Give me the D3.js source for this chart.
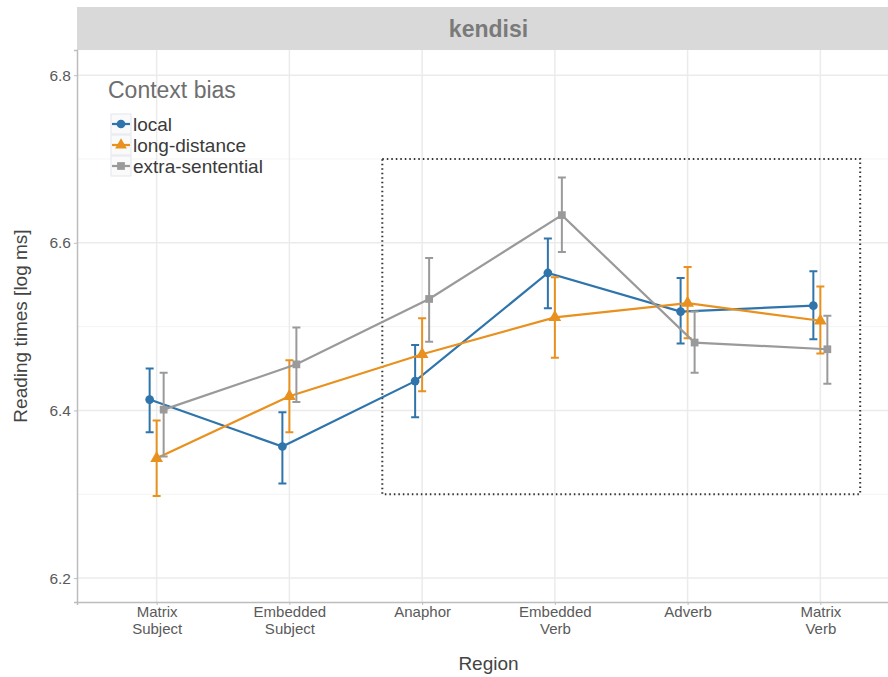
<!DOCTYPE html>
<html>
<head>
<meta charset="utf-8">
<script src="https://cdn.jsdelivr.net/npm/d3@7"></script>
<style>
  body { margin: 0; background: #fff; }
  svg { display: block; font-family: "Liberation Sans", Arial, sans-serif; }
</style>
</head>
<body>
<svg id="chart" width="888" height="677"></svg>
<script>
// data
const regions = ["Matrix\nSubject", "Embedded\nSubject", "Anaphor", "Embedded\nVerb", "Adverb", "Matrix\nVerb"];
const groups = ["local", "long-distance", "extra-sentential"];
const colors = ["#2f74ab", "#e8911f", "#9a9a9a"];
const shapes = [d3.symbolCircle, d3.symbolTriangle, d3.symbolSquare];

const localMean = [6.413, 6.357, 6.435, 6.564, 6.518, 6.525];
const localLo   = [6.374, 6.313, 6.392, 6.522, 6.480, 6.485];
const localHi   = [6.450, 6.398, 6.478, 6.605, 6.558, 6.566];

const longMean = [6.343, 6.417, 6.467, 6.511, 6.528, 6.507];
const longLo   = [6.298, 6.374, 6.423, 6.463, 6.486, 6.468];
const longHi   = [6.388, 6.460, 6.510, 6.559, 6.571, 6.548];

const extraMean = [6.401, 6.455, 6.533, 6.633, 6.481, 6.473];
const extraLo   = [6.345, 6.410, 6.482, 6.589, 6.445, 6.432];
const extraHi   = [6.445, 6.499, 6.582, 6.678, 6.518, 6.513];

const yTicks = [6.2, 6.4, 6.6, 6.8];
const yMinor = [6.3, 6.5, 6.7];
// dotted highlight box (x in region index, y in log ms)
const boxX = [2.7, 6.3];
const boxY = [6.3, 6.7];

const series = [
  { mean: localMean, lo: localLo, hi: localHi },
  { mean: longMean, lo: longLo, hi: longHi },
  { mean: extraMean, lo: extraLo, hi: extraHi }
];

const svg = d3.select("#chart");
const pLeft = 77, pTop = 50, pBottom = 602, pRight = 900;

const x = d3.scaleLinear().domain([0.4, regions.length + 0.6]).range([pLeft, pRight]);
const y = d3.scaleLinear().domain([6.1715, 6.830]).range([pBottom, pTop]);
const dodge = [-7, 0, 7];

// strip
svg.append("rect").attr("x", pLeft).attr("y", 7).attr("width", pRight - pLeft).attr("height", pTop - 7)
  .attr("fill", "#d9d9d9");
svg.append("text").attr("x", (pLeft + pRight) / 2).attr("y", 37).attr("text-anchor", "middle")
  .attr("font-size", 23).attr("font-weight", "bold").attr("fill", "#7a7a7a").text("kendisi");

// grid
const grid = svg.append("g");
grid.selectAll(".ymin").data(yMinor).join("line")
  .attr("x1", pLeft).attr("x2", pRight).attr("y1", d => y(d)).attr("y2", d => y(d))
  .attr("stroke", "#f4f4f4").attr("stroke-width", 1);
grid.selectAll(".ymaj").data(yTicks).join("line")
  .attr("x1", pLeft).attr("x2", pRight).attr("y1", d => y(d)).attr("y2", d => y(d))
  .attr("stroke", "#ebebeb").attr("stroke-width", 1.5);
grid.selectAll(".xmaj").data(regions).join("line")
  .attr("x1", (d, i) => x(i + 1)).attr("x2", (d, i) => x(i + 1)).attr("y1", pTop).attr("y2", pBottom)
  .attr("stroke", "#ebebeb").attr("stroke-width", 1.5);

// axes
const yAxis = svg.append("g").attr("transform", `translate(${pLeft},0)`)
  .call(d3.axisLeft(y).tickValues(yTicks).tickFormat(d3.format(".1f")).tickSize(3).tickPadding(3));
const xAxis = svg.append("g").attr("transform", `translate(0,${pBottom})`)
  .call(d3.axisBottom(x).tickValues(d3.range(1, regions.length + 1)).tickFormat("").tickSize(3));
[yAxis, xAxis].forEach(a => {
  a.select(".domain").attr("stroke", "#bdbdbd").attr("stroke-width", 1.5);
  a.selectAll(".tick line").attr("stroke", "#bdbdbd");
});
yAxis.selectAll(".tick text").attr("font-size", 15.5).attr("fill", "#5a5a5a");

xAxis.selectAll(".tick").each(function (d) {
  const lines = regions[d - 1].split("\n");
  const t = d3.select(this).append("text").attr("fill", "#5a5a5a").attr("font-size", 15)
    .attr("text-anchor", "middle").attr("y", 15);
  lines.forEach((l, k) => t.append("tspan").attr("x", 0).attr("dy", k === 0 ? 0 : 17).text(l));
});

// dotted box
svg.append("rect")
  .attr("x", x(boxX[0])).attr("y", y(boxY[1]))
  .attr("width", x(boxX[1]) - x(boxX[0])).attr("height", y(boxY[0]) - y(boxY[1]))
  .attr("fill", "none").attr("stroke", "#333").attr("stroke-width", 2).attr("stroke-dasharray", "1.5,3");

// series
series.forEach((s, g) => {
  const gg = svg.append("g");
  const px = i => x(i + 1) + dodge[g];
  gg.append("path")
    .attr("d", d3.line().x((d, i) => px(i)).y(d => y(d))(s.mean))
    .attr("fill", "none").attr("stroke", colors[g]).attr("stroke-width", 2.2);
  gg.selectAll(".eb").data(s.mean).join("path")
    .attr("d", (d, i) => {
      const cx = px(i), y1 = y(s.lo[i]), y2 = y(s.hi[i]);
      return `M${cx - 4},${y1}H${cx + 4}M${cx},${y1}V${y2}M${cx - 4},${y2}H${cx + 4}`;
    })
    .attr("fill", "none").attr("stroke", colors[g]).attr("stroke-width", 2);
  gg.selectAll(".pt").data(s.mean).join("path")
    .attr("transform", (d, i) => `translate(${px(i)},${y(d)})`)
    .attr("d", d3.symbol().type(shapes[g]).size(g === 1 ? 70 : 60))
    .attr("fill", colors[g]);
});

// legend
const lg = svg.append("g");
lg.append("text").attr("x", 108).attr("y", 98).attr("font-size", 23).attr("fill", "#6e6e6e").text("Context bias");
groups.forEach((name, g) => {
  const cy = 124 + g * 21;
  lg.append("rect").attr("x", 111).attr("y", cy - 10).attr("width", 20).attr("height", 20)
    .attr("fill", "#fafafa").attr("stroke", "#e3e6ee").attr("stroke-width", 1);
  lg.append("line").attr("x1", 112).attr("x2", 130).attr("y1", cy).attr("y2", cy)
    .attr("stroke", colors[g]).attr("stroke-width", 2.2);
  lg.append("path").attr("transform", `translate(121,${cy})`)
    .attr("d", d3.symbol().type(shapes[g]).size(60)).attr("fill", colors[g]);
  lg.append("text").attr("x", 133).attr("y", cy + 6.5).attr("font-size", 19).attr("fill", "#3a3a3a").text(name);
});

// axis titles
svg.append("text").attr("x", (pLeft + pRight) / 2).attr("y", 670).attr("text-anchor", "middle")
  .attr("font-size", 19).attr("fill", "#444").text("Region");
svg.append("text").attr("transform", `translate(27,${(pTop + pBottom) / 2}) rotate(-90)`)
  .attr("text-anchor", "middle").attr("font-size", 19).attr("fill", "#444").text("Reading times [log ms]");
</script>
</body>
</html>
